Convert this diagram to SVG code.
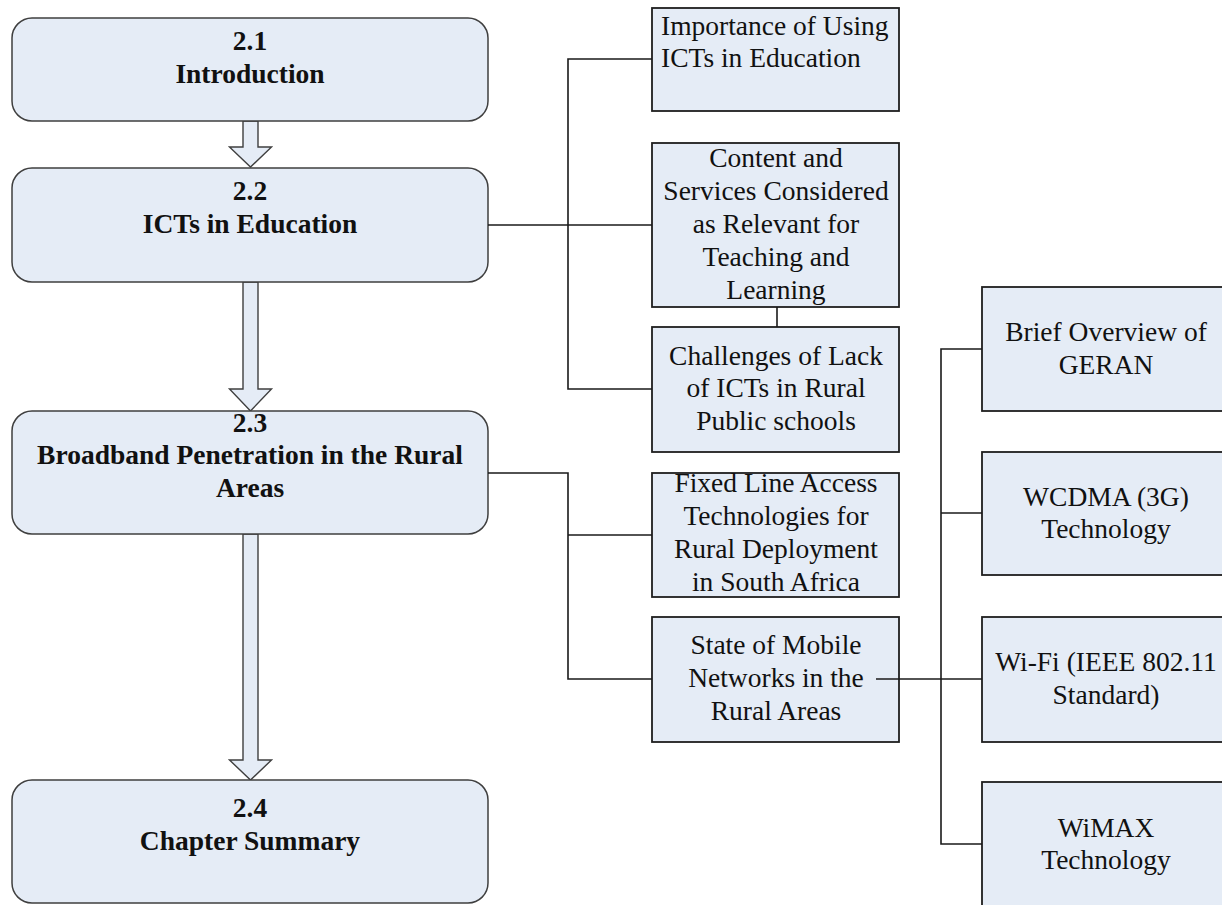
<svg xmlns="http://www.w3.org/2000/svg" width="1222" height="905" viewBox="0 0 1222 905">
<style>
.rb{fill:#E5ECF6;stroke:#3f3f3f;stroke-width:1.5}
.bx{fill:#E5ECF6;stroke:#1e1e1e;stroke-width:1.8}
.ar{fill:#E5ECF6;stroke:#3f3f3f;stroke-width:1.4}
.ln{fill:none;stroke:#1a1a1a;stroke-width:1.6}
.tb{font-family:"Liberation Serif","Times New Roman",serif;font-size:27.5px;font-weight:bold;fill:#111;text-anchor:middle}
.tr{font-family:"Liberation Serif","Times New Roman",serif;font-size:27.5px;fill:#111;text-anchor:middle}
.tl{font-family:"Liberation Serif","Times New Roman",serif;font-size:27.5px;fill:#111;text-anchor:start}
</style>
<rect width="1222" height="905" fill="#ffffff"/>
<g id="arrows">
<path class="ar" d="M243,121 L258,121 L258,147 L271.5,147 L250.5,167 L229.5,147 L243,147 Z"/>
<path class="ar" d="M243,282 L258,282 L258,389 L271.5,389 L250.5,411 L229.5,389 L243,389 Z"/>
<path class="ar" d="M243,534 L258,534 L258,760 L271.5,760 L250.5,780 L229.5,760 L243,760 Z"/>
</g>
<g id="n21"><rect class="rb" x="12" y="18" width="476" height="103" rx="20"/><text class="tb" x="250" y="50">2.1</text><text class="tb" x="250" y="83">Introduction</text></g>
<g id="n22"><rect class="rb" x="12" y="168" width="476" height="114" rx="20"/><text class="tb" x="250" y="200">2.2</text><text class="tb" x="250" y="233">ICTs in Education</text></g>
<g id="n23"><rect class="rb" x="12" y="411" width="476" height="123" rx="20"/><text class="tb" x="250" y="432">2.3</text><text class="tb" x="250" y="464">Broadband Penetration in the Rural</text><text class="tb" x="250" y="497">Areas</text></g>
<g id="n24"><rect class="rb" x="12" y="780" width="476" height="123" rx="20"/><text class="tb" x="250" y="817">2.4</text><text class="tb" x="250" y="850">Chapter Summary</text></g>
<g id="nA"><rect class="bx" x="652" y="8" width="247" height="103"/><text class="tl" x="661" y="35">Importance of Using</text><text class="tl" x="661" y="67">ICTs in Education</text></g>
<g id="nB"><rect class="bx" x="652" y="143" width="247" height="164"/><text class="tr" x="776" y="167">Content and</text><text class="tr" x="776" y="200">Services Considered</text><text class="tr" x="776" y="233">as Relevant for</text><text class="tr" x="776" y="266">Teaching and</text><text class="tr" x="776" y="299">Learning</text></g>
<g id="nC"><rect class="bx" x="652" y="327" width="247" height="125"/><text class="tr" x="776" y="365">Challenges of Lack</text><text class="tr" x="776" y="397">of ICTs in Rural</text><text class="tr" x="776" y="430">Public schools</text></g>
<g id="nD"><rect class="bx" x="652" y="473" width="247" height="124"/><text class="tr" x="776" y="492">Fixed Line Access</text><text class="tr" x="776" y="525">Technologies for</text><text class="tr" x="776" y="558">Rural Deployment</text><text class="tr" x="776" y="591">in South Africa</text></g>
<g id="nE"><rect class="bx" x="652" y="617" width="247" height="125"/><text class="tr" x="776" y="654">State of Mobile</text><text class="tr" x="776" y="687">Networks in the</text><text class="tr" x="776" y="720">Rural Areas</text></g>
<g id="nF"><rect class="bx" x="982" y="287" width="248" height="124"/><text class="tr" x="1106" y="341">Brief Overview of</text><text class="tr" x="1106" y="374">GERAN</text></g>
<g id="nG"><rect class="bx" x="982" y="452" width="248" height="123"/><text class="tr" x="1106" y="506">WCDMA (3G)</text><text class="tr" x="1106" y="538">Technology</text></g>
<g id="nH"><rect class="bx" x="982" y="617" width="248" height="125"/><text class="tr" x="1106" y="671">Wi-Fi (IEEE 802.11</text><text class="tr" x="1106" y="704">Standard)</text></g>
<g id="nI"><rect class="bx" x="982" y="782" width="248" height="124"/><text class="tr" x="1106" y="837">WiMAX</text><text class="tr" x="1106" y="869">Technology</text></g>
<g id="connectors">
<path class="ln" d="M488,225 H652"/>
<path class="ln" d="M652,59 H568 V389 H652"/>
<path class="ln" d="M777,307 V327"/>
<path class="ln" d="M488,473 H568 V679 H652"/>
<path class="ln" d="M568,535 H652"/>
<path class="ln" d="M876,679 H982"/>
<path class="ln" d="M982,349 H941 V844 H982"/>
<path class="ln" d="M941,513 H982"/>
</g>
</svg>
